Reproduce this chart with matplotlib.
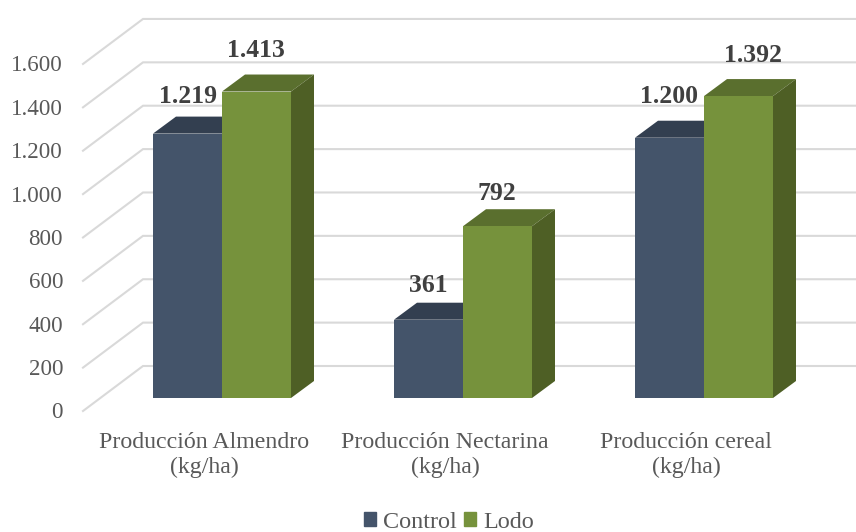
#!/usr/bin/env python3
"""3D look clustered bars: production control vs lodo."""
import matplotlib
matplotlib.use("Agg")
import matplotlib.pyplot as plt
from matplotlib.patches import Patch

categories = ["Producción Almendro\n(kg/ha)", "Producción Nectarina\n(kg/ha)", "Producción cereal\n(kg/ha)"]
control = [1219, 361, 1200]
lodo = [1413, 792, 1392]
control_labels = ["1.219", "361", "1.200"]
lodo_labels = ["1.413", "792", "1.392"]
y_ticks = [0, 200, 400, 600, 800, 1000, 1200, 1400, 1600]
y_tick_labels = ["0", "200", "400", "600", "800", "1.000", "1.200", "1.400", "1.600"]

plt.rcParams["font.family"] = ["Liberation Serif", "DejaVu Serif"]

W, H = 856, 532
PX_X = 241.0          # pixels per category
PX_Y = 0.2169         # pixels per value unit
X0, Y0 = 222.0, 398.0  # pixel of category 0 / value 0 on the bar plane


def dx(px):
    return px / PX_X


def dy(px):
    return px / PX_Y


def draw_bar(ax, left, width, val, front, top, side, z):
    right = left + width
    ddx, ddy = dx(23), dy(17)
    ax.fill([left, right, right, left], [0, 0, val, val], color=front, lw=0, zorder=z + 1)
    ax.fill([left, right, right + ddx, left + ddx], [val, val, val + ddy, val + ddy],
            color=top, lw=0, zorder=z)
    ax.fill([right, right + ddx, right + ddx, right], [0, ddy, val + ddy, val],
            color=side, lw=0, zorder=z)


fig = plt.figure(figsize=(W / 100, H / 100), dpi=100)
ax = fig.add_axes([0, 0, 1, 1])
ax.set_xlim(-X0 / PX_X, (W - X0) / PX_X)
ax.set_ylim((Y0 - H) / PX_Y, Y0 / PX_Y)
ax.axis("off")

# slanted + back wall gridlines
x_front, x_back, x_end = dx(83 - X0), dx(143 - X0), dx(W - X0)
for v, lbl in zip(y_ticks, y_tick_labels):
    ax.plot([x_front, x_back, x_end], [v - dy(13), v + dy(32), v + dy(32)],
            color="#D9D9D9", lw=1.5, zorder=1, solid_joinstyle="miter")
    ax.text(dx(63 - X0), v - dy(15), lbl, ha="right", va="center", fontsize=16.6, color="#595959")

width = 69 / PX_X
for i, cat in enumerate(categories):
    draw_bar(ax, i - width, width, control[i], "#44546A", "#333F50", "#333F50", 2)
    draw_bar(ax, i, width, lodo[i], "#76923C", "#5A6F2E", "#4E5F25", 4)
    ax.text(i - dx(18), dy(-57), cat, ha="center", va="center", fontsize=17.2,
            color="#595959", linespacing=1.27)

# data labels, nudged by hand like the original
control_off = [(-34, 37), (-35, 34), (-35, 41)]
lodo_off = [(34, 41), (34, 33), (49, 41)]
for i in range(3):
    ax.annotate(control_labels[i], (i, control[i]), xytext=control_off[i], textcoords="offset pixels",
                ha="center", va="center", fontsize=18.5, fontweight="bold", color="#404040", zorder=8)
    ax.annotate(lodo_labels[i], (i, lodo[i]), xytext=lodo_off[i], textcoords="offset pixels",
                ha="center", va="center", fontsize=18.5, fontweight="bold", color="#404040", zorder=8)

handles = [Patch(color="#44546A", label="Control"), Patch(color="#76923C", label="Lodo")]
fig.legend(handles=handles, ncol=2, loc="center", bbox_to_anchor=(449 / W, 1 - 522 / H), frameon=False,
           fontsize=17.4, labelcolor="#595959", handlelength=0.5, handleheight=0.5,
           handletextpad=0.3, columnspacing=0.3, borderpad=0)

fig.savefig("out.png", dpi=100)
